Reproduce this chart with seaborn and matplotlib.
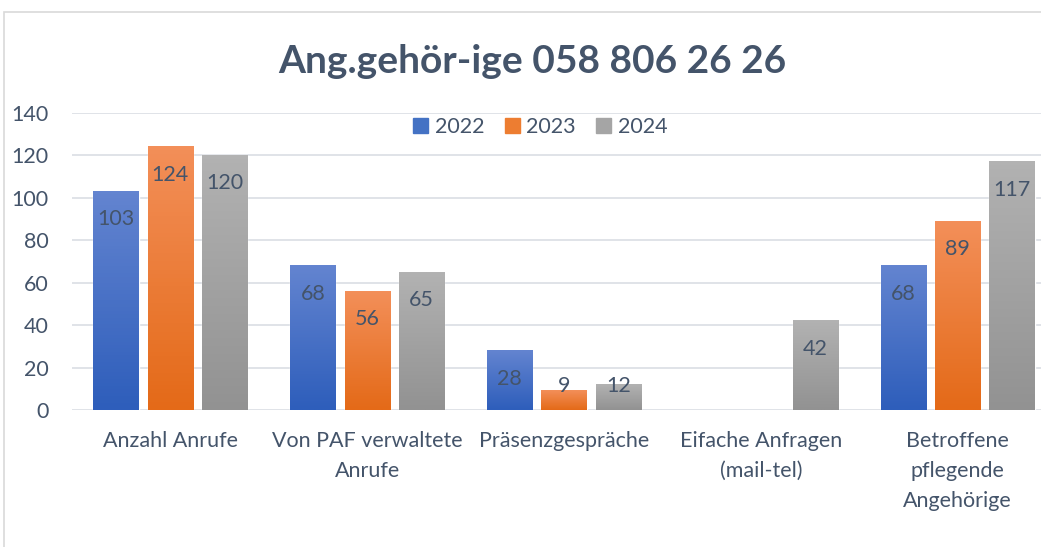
import numpy as np
import pandas as pd
import matplotlib
matplotlib.use("Agg")
import matplotlib.pyplot as plt
import seaborn as sns
from matplotlib.colors import LinearSegmentedColormap
from matplotlib.patches import Rectangle

categories = ["Anzahl Anrufe", "Von PAF verwaltete\nAnrufe", "Präsenzgespräche",
              "Eifache Anfragen\n(mail-tel)", "Betroffene\npflegende\nAngehörige"]
years = ["2022", "2023", "2024"]
v2022 = [103, 68, 28, np.nan, 68]
v2023 = [124, 56, 9, np.nan, 89]
v2024 = [120, 65, 12, 42, 117]

df = pd.DataFrame({
    "Kategorie": categories * 3,
    "Jahr": np.repeat(years, len(categories)),
    "Wert": v2022 + v2023 + v2024,
}).dropna()

# top / bottom colours of each gradient
grad = {
    "2022": ("#6384D0", "#2E5EBB"),
    "2023": ("#F38F59", "#E46A18"),
    "2024": ("#B2B2B2", "#929292"),
}
mid = {"2022": "#4472C4", "2023": "#ED7D31", "2024": "#A5A5A5"}
text_col = "#44546A"
fs = 15.5

sns.set_style("white")
plt.rcParams["font.family"] = ["Lato", "DejaVu Sans"]

fig = plt.figure(figsize=(10.41, 5.47), dpi=100)
ax = fig.add_axes([72 / 1041, 137 / 547, 984 / 1041, 297 / 547])

sns.barplot(data=df, x="Kategorie", y="Wert", hue="Jahr", order=categories,
            hue_order=years, palette=mid, width=0.83, gap=0.17,
            saturation=1, errorbar=None, ax=ax)

# gradient fill on every bar
for cont, yr in zip(ax.containers, years):
    cmap = LinearSegmentedColormap.from_list(yr, [grad[yr][0], grad[yr][1]])
    for bar in cont:
        h = bar.get_height()
        if np.isnan(h):
            continue
        x0, w = bar.get_x(), bar.get_width()
        ax.imshow(np.linspace(0, 1, 64).reshape(-1, 1), cmap=cmap, aspect="auto",
                  extent=[x0, x0 + w, 0, h], origin="upper", zorder=2)
        ax.text(x0 + w / 2, max(h - 13.2, 11.3), f"{h:.0f}", ha="center",
                va="center", fontsize=fs, color=text_col, zorder=3)

ax.set_xlim(-0.5, len(categories) - 0.5)
ax.set_ylim(0, 140)
ax.set_yticks(range(0, 141, 20))
ax.set_xlabel("")
ax.set_ylabel("")
ax.yaxis.grid(True, color="#DDE1E6", lw=1.3)
ax.set_axisbelow(True)
for s in ax.spines.values():
    s.set_visible(False)
ax.tick_params(axis="y", length=0, pad=17, labelsize=fs, labelcolor=text_col)
ax.tick_params(axis="x", length=0, pad=15, labelsize=fs, labelcolor=text_col)
for lab in ax.get_xticklabels():
    lab.set_linespacing(1.62)

handles = [Rectangle((0, 0), 1, 1, color=mid[y]) for y in years]
ax.legend(handles, years, loc="center", bbox_to_anchor=(0.476, 0.953), ncol=3,
          frameon=False, fontsize=fs, labelcolor=text_col, handlelength=0.7,
          handleheight=0.7, handletextpad=0.3, columnspacing=0.95)

fig.text(532 / 1041, 1 - 62 / 547, "Ang.gehör-ige 058 806 26 26", ha="center",
         va="center", fontsize=28, fontweight="bold", color=text_col)

fig.patches.append(Rectangle((4 / 1041, -0.1), 1.2, 1.1 - 12 / 547,
                             transform=fig.transFigure, fill=False,
                             edgecolor="#D9D9D9", lw=1.2))

fig.savefig("out.png", dpi=100)
